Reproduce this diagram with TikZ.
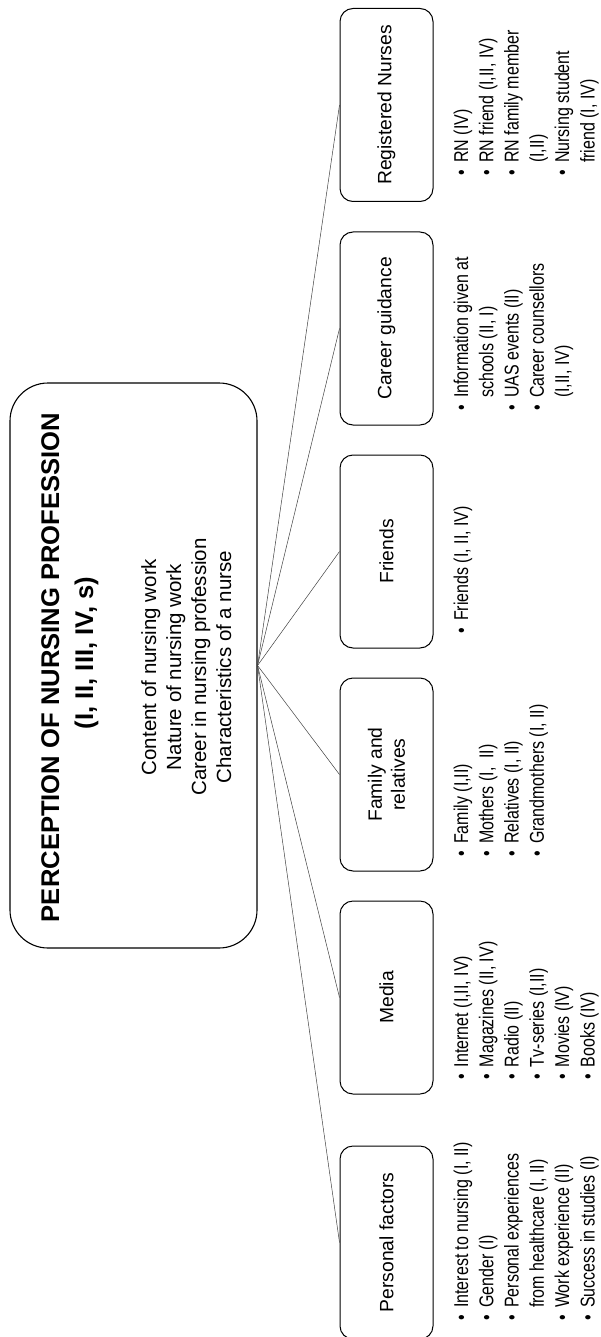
\documentclass[tikz,border=0pt]{standalone}
\usepackage{graphicx}
\usepackage{fontspec}
\setmainfont{Liberation Sans}
\newcommand\myb{\makebox[12.8pt][l]{•}}
\newcommand\myc{\hspace*{12.8pt}}
\newcommand\mylist[1]{\scalebox{1}[1.25]{\begin{tabular}[t]{@{}l@{}}#1\end{tabular}}}
\begin{document}
\begin{tikzpicture}[x=1pt,y=-1pt,
  hubbox/.style={draw, line width=1.1pt, rounded corners=38pt, minimum width=247pt, minimum height=565pt, inner sep=0pt},
  catbox/.style={draw, line width=1pt, rounded corners=13pt, minimum width=193pt, minimum height=93pt, rotate=90, font=\fontsize{19.3}{23}\selectfont, align=center, inner sep=0pt},
  ttl/.style={rotate=90, anchor=base, inner sep=0pt, font=\bfseries\fontsize{25.6}{30}\selectfont},
  subt/.style={rotate=90, anchor=base, inner sep=0pt, font=\fontsize{20.5}{25}\selectfont},
  blist/.style={rotate=90, anchor=base west, inner sep=0pt, font=\fontsize{16}{20.24}\selectfont},
  conn/.style={line width=0.5pt, black!75}
]
\useasboundingbox (0,0) rectangle (600,1337);
% central box
\node[hubbox] (hub) at (133.5,665.5) {};
\node[ttl] (t1) at (59,667.5) {PERCEPTION OF NURSING PROFESSION};
\node[ttl] (t2) at (93,653) {(I, II, III, IV, s)};
\node[subt] (sub) at (156,667) {\begin{tabular}[t]{@{}c@{}}Content of nursing work\\Nature of nursing work\\Career in nursing profession\\Characteristics of a nurse\end{tabular}};
% category boxes
\node[catbox] (rn) at (386.5,105) {Registered Nurses};
\node[catbox] (cg) at (386.5,328.5) {Career guidance};
\node[catbox] (fr) at (386.5,551.5) {Friends};
\node[catbox] (fam) at (386.5,774.5) {Family and\\relatives};
\node[catbox] (med) at (386.5,997.5) {Media};
\node[catbox] (pf) at (386.5,1242.5) {Personal factors};
% connectors
\foreach \n in {rn,cg,fr,fam,med,pf} \draw[conn] (hub.east) -- (\n.north);
% lists
\node[blist] (lrn) at (468,175.8) {\mylist{\myb RN (IV)\\\myb RN friend (I,II, IV)\\\myb RN family member\\\myc (I,II)\\\myb Nursing student\\\myc friend (I, IV)}};
\node[blist] (lcg) at (468,410.8) {\mylist{\myb Information given at\\\myc schools (II, I)\\\myb UAS events (II)\\\myb Career counsellors\\\myc (I,II, IV)}};
\node[blist] (lfr) at (468,633.8) {\mylist{\myb Friends (I, II, IV)}};
\node[blist] (lfam) at (468,856.8) {\mylist{\myb Family (I,II)\\\myb Mothers (I,\ \ II)\\\myb Relatives (I, II)\\\myb Grandmothers (I, II)}};
\node[blist] (lmed) at (468,1080) {\mylist{\myb Internet (I,II, IV)\\\myb Magazines (II, IV)\\\myb Radio (II)\\\myb Tv-series (I,II)\\\myb Movies (IV)\\\myb Books (IV)}};
\node[blist] (lpf) at (468,1320.8) {\mylist{\myb Interest to nursing (I, II)\\\myb Gender (I)\\\myb Personal experiences\\\myc from healthcare (I, II)\\\myb Work experience (II)\\\myb Success in studies (I)}};
\end{tikzpicture}
\end{document}
